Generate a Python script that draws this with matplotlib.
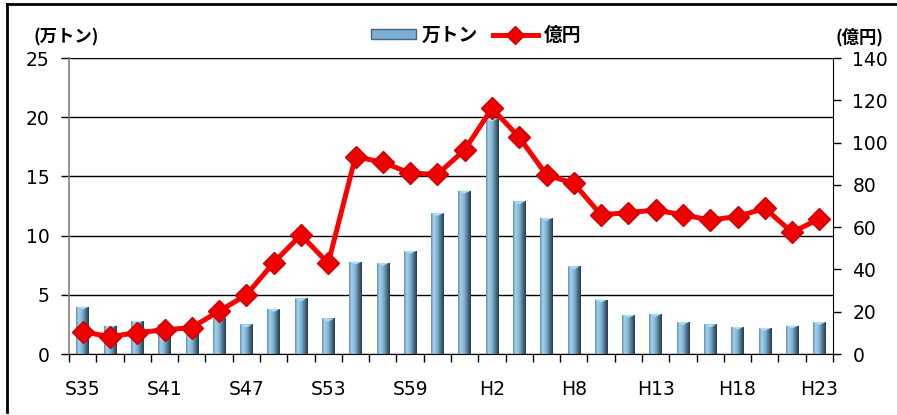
import numpy as np
import matplotlib
matplotlib.use("Agg")
import matplotlib.pyplot as plt
from matplotlib.colors import LinearSegmentedColormap
from matplotlib.patches import Patch
from matplotlib.lines import Line2D

plt.rcParams['font.family'] = ['DejaVu Sans', 'Noto Sans CJK JP']

# ---- data ----
years = ["S35", "S37", "S39", "S41", "S43", "S45", "S47", "S49", "S51", "S53",
         "S55", "S57", "S59", "S61", "S63", "H2", "H4", "H6", "H8", "H10",
         "H11", "H13", "H15", "H16", "H18", "H20", "H21", "H23"]
tons = [4.0, 2.4, 2.8, 2.5, 2.6, 3.0, 2.5, 3.8, 4.7, 3.0,
        7.8, 7.7, 8.7, 11.9, 13.8, 19.9, 12.9, 11.5, 7.4, 4.6,
        3.3, 3.4, 2.7, 2.5, 2.3, 2.2, 2.4, 2.7]
oku_yen = [10.5, 8.2, 10.1, 11.4, 12.5, 20.3, 27.9, 43.2, 56.3, 42.9,
           93.3, 90.7, 85.5, 85.0, 96.5, 116.2, 102.5, 84.7, 80.7, 65.8,
           66.9, 68.1, 65.8, 63.4, 65.0, 68.9, 57.6, 63.9]
label_every = 3
bar_label = "万トン"
line_label = "億円"
left_unit = "(万トン)"
right_unit = "(億円)"

# ---- figure ----
fig = plt.figure(figsize=(8.97, 4.15), dpi=100)
ax = fig.add_axes([69/897, 1-354/415, (833-69)/897, (354-58)/415])
ax2 = ax.twinx()

x = np.arange(len(years))
bars = ax.bar(x, tons, width=0.46, color='none', edgecolor='none', zorder=2)

cmap = LinearSegmentedColormap.from_list(
    "cyl", [(0.0, "#5f8fb0"), (0.2, "#a6d2ec"), (0.5, "#7db0d2"),
            (0.8, "#44687f"), (1.0, "#263a46")])
grad = np.linspace(0, 1, 64).reshape(1, -1)
for b in bars:
    x0, y0 = b.get_x(), b.get_y()
    w, h = b.get_width(), b.get_height()
    im = ax.imshow(grad, extent=[x0, x0 + w, y0, y0 + h], aspect='auto',
                   cmap=cmap, zorder=2, interpolation='bilinear')
    im.set_clip_path(b)
    # light top cap
    ax.fill([x0, x0 + w, x0 + w * 0.5], [y0 + h, y0 + h, y0 + h - 0.25],
            color="#a8e0f8", zorder=3, lw=0)

ax.set_xlim(-0.5, len(years) - 0.5)
ax.set_ylim(0, 25)
ax.set_yticks(np.arange(0, 26, 5))
ax.yaxis.grid(True, color='black', lw=1.0)
ax.set_axisbelow(True)

ax.set_xticks(x[::label_every])
ax.set_xticklabels(years[::label_every])
ax.set_xticks(np.arange(-0.5, len(years), 1), minor=True)
ax.tick_params(axis='x', which='major', length=0, pad=19, labelsize=13.5)
ax.tick_params(axis='x', which='minor', length=6, width=1, color='black', direction='out')
ax.tick_params(axis='y', length=6, width=1, color='black', pad=8, labelsize=13.5)

for s in ['top', 'right']:
    ax.spines[s].set_visible(False)
ax.spines['left'].set_color('#808080')
ax.spines['left'].set_linewidth(1.2)
ax.spines['bottom'].set_color('black')

ax2.plot(x, oku_yen, color='#ff0000', lw=3.6, marker='D', markersize=11,
         markerfacecolor='#ee0000', markeredgecolor='#cc0000', markeredgewidth=1,
         zorder=5)
ax2.set_ylim(0, 140)
ax2.set_yticks(np.arange(0, 141, 20))
ax2.tick_params(axis='y', length=6, width=1, color='black', pad=8, labelsize=13.5)
for s in ['top', 'left', 'bottom']:
    ax2.spines[s].set_visible(False)
ax2.spines['right'].set_color('black')

jp = ['Noto Sans CJK JP', 'DejaVu Sans']
fig.text(66/897, 1-37/415, left_unit, family=jp, fontweight='bold', fontsize=12.5,
         ha='center', va='center')
fig.text(859/897, 1-37/415, right_unit, family=jp, fontweight='bold', fontsize=12.5,
         ha='center', va='center')

handles = [Patch(facecolor='#7db0d2', edgecolor='#44687f'),
           Line2D([0], [0], color='#ff0000', lw=3.6, marker='D', markersize=9,
                  markerfacecolor='#ee0000', markeredgecolor='#cc0000')]
fig.legend(handles, [bar_label, line_label], loc='center',
           bbox_to_anchor=(476/897, 1-35/415), ncol=2, frameon=False,
           prop={'family': jp, 'weight': 'bold', 'size': 13.5},
           handlelength=2.4, handleheight=0.45, columnspacing=0.8, handletextpad=0.3)

# outer frame (top and left edges visible)
fig.add_artist(Line2D([7/897, 1], [1-4/415, 1-4/415], color='black', lw=2,
                      transform=fig.transFigure))
fig.add_artist(Line2D([7/897, 7/897], [1-4/415, 1-412/415], color='black', lw=2,
                      transform=fig.transFigure))

fig.savefig("out.png", dpi=100)
